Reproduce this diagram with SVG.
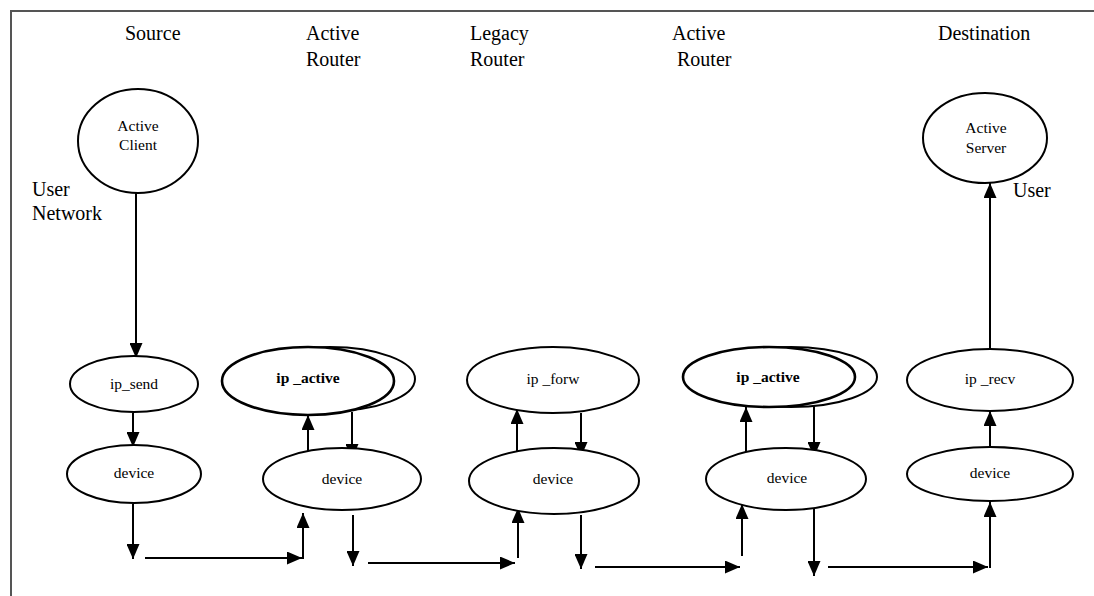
<svg xmlns="http://www.w3.org/2000/svg" width="1094" height="596" viewBox="0 0 1094 596">
  <style>
    .hdr { font-family: "Liberation Serif", "Times New Roman", serif; font-size: 20px; fill: #000; }
    .lbl { font-family: "Liberation Serif", "Times New Roman", serif; font-size: 15.5px; fill: #000; text-anchor: middle; }
    .bold { font-weight: bold; }
    .node { fill: #fff; stroke: #000; stroke-width: 2; }
    .node-thick { fill: #fff; stroke: #000; stroke-width: 2.6; }
    .edge { fill: none; stroke: #000; stroke-width: 2; marker-end: url(#arrow); }
    .frame { fill: none; stroke: #555; stroke-width: 2; }
  </style>
  <defs>
    <marker id="arrow" markerUnits="userSpaceOnUse" markerWidth="15" markerHeight="13" refX="15" refY="6.5" orient="auto">
      <path d="M0,0 L15,6.5 L0,13 z" fill="#000"/>
    </marker>
  </defs>

  <rect width="1094" height="596" fill="#fff"/>
  <path class="frame" d="M11,596 L11,11 L1094,11"/>

  <!-- column headings -->
  <g id="headings">
    <text class="hdr" x="125" y="40">Source</text>
    <text class="hdr" x="306" y="40">Active</text>
    <text class="hdr" x="306" y="66">Router</text>
    <text class="hdr" x="470" y="40">Legacy</text>
    <text class="hdr" x="470" y="66">Router</text>
    <text class="hdr" x="672" y="40">Active</text>
    <text class="hdr" x="677" y="66">Router</text>
    <text class="hdr" x="938" y="40">Destination</text>
  </g>

  <g id="side-labels">
    <text class="hdr" x="32" y="196">User</text>
    <text class="hdr" x="32" y="220">Network</text>
    <text class="hdr" x="1013" y="197">User</text>
  </g>

  <!-- connectors -->
  <g id="connectors">
    <line class="edge" x1="136" y1="193" x2="136" y2="358"/>
    <line class="edge" x1="133" y1="413" x2="133" y2="447"/>
    <line class="edge" x1="133" y1="504" x2="133" y2="559"/>
    <line class="edge" x1="145" y1="558" x2="302" y2="558"/>
    <line class="edge" x1="303" y1="559" x2="303" y2="513"/>

    <line class="edge" x1="308" y1="453" x2="308" y2="415"/>
    <line class="edge" x1="352" y1="412" x2="352" y2="459"/>
    <line class="edge" x1="353" y1="515" x2="353" y2="566"/>
    <line class="edge" x1="368" y1="563" x2="515" y2="563"/>
    <line class="edge" x1="518" y1="558" x2="518" y2="508"/>

    <line class="edge" x1="517" y1="453" x2="517" y2="409"/>
    <line class="edge" x1="581" y1="413" x2="581" y2="457"/>
    <line class="edge" x1="581" y1="515" x2="581" y2="569"/>
    <line class="edge" x1="595" y1="567" x2="740" y2="567"/>
    <line class="edge" x1="742" y1="556" x2="742" y2="504"/>

    <line class="edge" x1="746" y1="452" x2="746" y2="407"/>
    <line class="edge" x1="814" y1="406" x2="814" y2="457"/>
    <line class="edge" x1="814" y1="509" x2="814" y2="576"/>
    <line class="edge" x1="828" y1="567" x2="988" y2="567"/>
    <line class="edge" x1="990" y1="568" x2="990" y2="502"/>

    <line class="edge" x1="990" y1="447" x2="990" y2="411"/>
    <line class="edge" x1="990" y1="349" x2="990" y2="183"/>
  </g>

  <!-- source host -->
  <g id="active-client">
    <ellipse class="node" cx="138" cy="141" rx="60" ry="52"/>
    <text class="lbl" x="138" y="131">Active</text>
    <text class="lbl" x="138" y="150">Client</text>
  </g>
  <g id="ip-send">
    <ellipse class="node" cx="134" cy="384" rx="64" ry="28"/>
    <text class="lbl" x="134" y="389">ip_send</text>
  </g>
  <g id="device-source">
    <ellipse class="node" cx="134" cy="474" rx="67" ry="29"/>
    <text class="lbl" x="134" y="478">device</text>
  </g>

  <!-- first active router -->
  <g id="ip-active-1">
    <ellipse class="node" cx="330" cy="379" rx="85" ry="32"/>
    <ellipse class="node-thick" cx="308" cy="381" rx="86" ry="34"/>
    <text class="lbl bold" x="308" y="383">ip _active</text>
  </g>
  <g id="device-active-1">
    <ellipse class="node" cx="342" cy="479" rx="79" ry="31"/>
    <text class="lbl" x="342" y="484">device</text>
  </g>

  <!-- legacy router -->
  <g id="ip-forw">
    <ellipse class="node" cx="553" cy="380" rx="86" ry="33"/>
    <text class="lbl" x="553" y="384">ip _forw</text>
  </g>
  <g id="device-legacy">
    <ellipse class="node" cx="554" cy="481" rx="85" ry="33"/>
    <text class="lbl" x="553" y="484">device</text>
  </g>

  <!-- second active router -->
  <g id="ip-active-2">
    <ellipse class="node" cx="791" cy="377" rx="86" ry="30"/>
    <ellipse class="node-thick" cx="769" cy="377" rx="86" ry="30"/>
    <text class="lbl bold" x="768" y="382">ip _active</text>
  </g>
  <g id="device-active-2">
    <ellipse class="node" cx="786" cy="479" rx="80" ry="31"/>
    <text class="lbl" x="787" y="483">device</text>
  </g>

  <!-- destination host -->
  <g id="active-server">
    <ellipse class="node" cx="985" cy="138" rx="62" ry="45"/>
    <text class="lbl" x="986" y="133">Active</text>
    <text class="lbl" x="986" y="153">Server</text>
  </g>
  <g id="ip-recv">
    <ellipse class="node" cx="990" cy="380" rx="83" ry="31"/>
    <text class="lbl" x="990" y="384">ip _recv</text>
  </g>
  <g id="device-destination">
    <ellipse class="node" cx="990" cy="474" rx="83" ry="27"/>
    <text class="lbl" x="990" y="478">device</text>
  </g>
</svg>
